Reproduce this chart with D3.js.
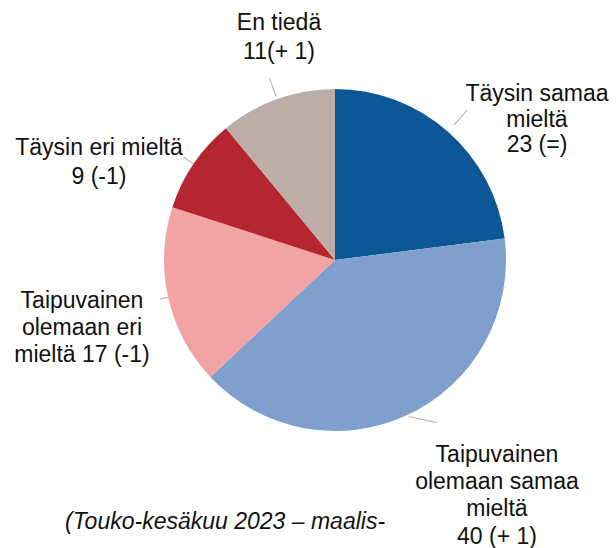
<!DOCTYPE html>
<html><head><meta charset="utf-8">
<script src="https://cdn.jsdelivr.net/npm/d3@7/dist/d3.min.js"></script>
<style>
html,body{margin:0;padding:0;background:#fff;}
svg{display:block;}
text{font-family:"Liberation Sans",Arial,sans-serif;font-size:23px;fill:#111;}
</style></head>
<body>
<script>
const categories = ["Täysin samaa mieltä","Taipuvainen olemaan samaa mieltä","Taipuvainen olemaan eri mieltä","Täysin eri mieltä","En tiedä"];
const values = [23, 40, 17, 9, 11];
const changes = ["(=)", "(+ 1)", "(-1)", "(-1)", "(+ 1)"];
const labelLines = [
  ["Täysin samaa", "mieltä", "23 (=)"],
  ["Taipuvainen", "olemaan samaa", "mieltä", "40 (+ 1)"],
  ["Taipuvainen", "olemaan eri", "mieltä 17 (-1)"],
  ["Täysin eri mieltä", "9 (-1)"],
  ["En tiedä", "11(+ 1)"]
];
const footer = "(Touko-kesäkuu 2023 – maalis-";

const colors = ["#0c5796", "#7f9fcc", "#f2a3a3", "#b52630", "#bcaea7"];
const W = 616, H = 548, cx = 335, cy = 260, R = 171;
// label layout: center x, first baseline y, line height
const labelPos = [
  {x: 537, y: 101, lh: 25.5},
  {x: 497, y: 462, lh: 27.2},
  {x: 82, y: 308, lh: 27.2},
  {x: 99, y: 155, lh: 28.5},
  {x: 279, y: 30, lh: 29}
];
// leader lines: radial start/end offsets and extra angle tweak for the end
const leader = [
  {r0: 9, r1: 29, da: 0},
  {r0: 2, r1: 21, da: -0.12},
  {r0: 0, r1: 8, da: 0},
  {r0: 0, r1: 12, da: 0},
  {r0: 3, r1: 22, da: 0}
];

const svg = d3.select("body").append("svg").attr("width", W).attr("height", H);
const pie = d3.pie().sort(null).value(d => d)(values);
const arc = d3.arc().innerRadius(0).outerRadius(R);
const g = svg.append("g").attr("transform", `translate(${cx},${cy})`);
g.selectAll("path").data(pie).join("path")
  .attr("d", arc)
  .attr("fill", (d, i) => colors[i]);

const pt = (a, r) => [r * Math.sin(a), -r * Math.cos(a)];
g.selectAll("line.leader").data(pie).join("line")
  .attr("class", "leader")
  .each(function(d, i) {
    const m = (d.startAngle + d.endAngle) / 2;
    const p0 = pt(m, R + leader[i].r0), p1 = pt(m + leader[i].da, R + leader[i].r1);
    d3.select(this).attr("x1", p0[0]).attr("y1", p0[1]).attr("x2", p1[0]).attr("y2", p1[1]);
  })
  .attr("stroke", "#b8b8b8").attr("stroke-width", 1.2);

labelLines.forEach((lines, i) => {
  const t = svg.append("text").attr("text-anchor", "middle");
  lines.forEach((l, j) => {
    t.append("tspan").attr("x", labelPos[i].x).attr("y", labelPos[i].y + j * labelPos[i].lh).text(l);
  });
});

svg.append("text").attr("x", 65).attr("y", 529).attr("font-style", "italic").text(footer);
</script>
</body></html>
